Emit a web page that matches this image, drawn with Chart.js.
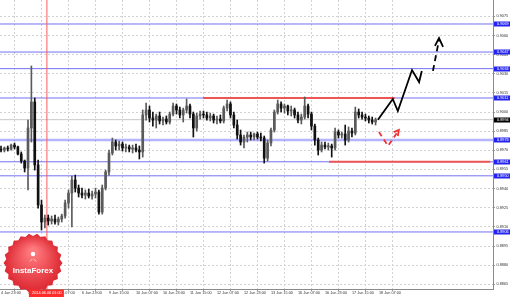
<!DOCTYPE html>
<html lang="en">
<head>
<meta charset="UTF-8">
<title>USDCHF H1</title>
<script src="https://cdn.jsdelivr.net/npm/chart.js"></script>
<style>
    html, body { margin: 0; padding: 0; background: #fff; }
    #wrap { width: 510px; height: 297px; }
</style>
</head>
<body>
<div id="wrap"><canvas id="chart" width="510" height="297"></canvas></div>
<script>
// candles, one per 2 hours, starting 4 Jun 23:00
const opens = [0.89710,0.89702,0.89718,0.89710,0.89741,0.89726,0.89671,0.89616,0.89561,0.89875,
    0.90079,0.89585,0.89271,0.89138,0.89169,0.89146,0.89161,0.89138,0.89161,0.89185,
    0.89287,0.89365,0.89467,0.89404,0.89365,0.89349,0.89365,0.89342,0.89357,0.89373,
    0.89216,0.89404,0.89530,0.89679,0.89765,0.89734,0.89749,0.89718,0.89726,0.89710,
    0.89718,0.89702,0.89687,0.89977,0.90016,0.89953,0.89937,0.89969,0.89930,0.89945,
    0.89922,0.89984,0.90047,0.90016,0.89977,0.90016,0.90047,0.89984,0.89875,0.89969,
    0.89984,0.89977,0.89953,0.89969,0.89937,0.89945,0.89930,0.90031,0.90063,0.89977,
    0.89898,0.89820,0.89765,0.89804,0.89820,0.89804,0.89828,0.89804,0.89796,0.89639,
    0.89757,0.89859,0.90000,0.90063,0.90031,0.90047,0.90008,0.90016,0.89977,0.89937,
    0.89961,0.90047,0.89984,0.89890,0.89781,0.89702,0.89741,0.89726,0.89734,0.89718,
    0.89843,0.89820,0.89828,0.89781,0.89851,0.89835,0.90000,0.89977,0.89961,0.89953,
    0.89937,0.89922];
const highs = [0.89734,0.89726,0.89734,0.89749,0.89757,0.89734,0.89687,0.89624,0.89937,0.90361,
    0.90110,0.89624,0.89310,0.89193,0.89193,0.89185,0.89193,0.89177,0.89200,0.89310,
    0.89389,0.89498,0.89506,0.89428,0.89404,0.89389,0.89396,0.89381,0.89404,0.89389,
    0.89428,0.89545,0.89702,0.89796,0.89781,0.89773,0.89765,0.89749,0.89741,0.89741,
    0.89749,0.89734,0.90016,0.90071,0.90047,0.90000,0.89984,0.90000,0.89961,0.89969,
    0.90000,0.90071,0.90063,0.90039,0.90031,0.90102,0.90063,0.90000,0.89992,0.90008,
    0.90008,0.90000,0.89992,0.89984,0.89969,0.89977,0.90047,0.90094,0.90079,0.90000,
    0.89937,0.89859,0.89820,0.89843,0.89843,0.89835,0.89843,0.89835,0.89812,0.89781,
    0.89875,0.90016,0.90094,0.90079,0.90063,0.90055,0.90047,0.90031,0.90000,0.89984,
    0.90118,0.90063,0.90000,0.89906,0.89796,0.89765,0.89765,0.89757,0.89749,0.89875,
    0.89859,0.89843,0.89898,0.89883,0.89875,0.90039,0.90024,0.90000,0.89984,0.89969,
    0.89961,0.89953];
const lows = [0.89687,0.89687,0.89694,0.89702,0.89710,0.89663,0.89600,0.89530,0.89389,0.89765,
    0.89545,0.89247,0.89075,0.89091,0.89114,0.89122,0.89122,0.89114,0.89138,0.89169,
    0.89247,0.89099,0.89373,0.89334,0.89326,0.89318,0.89326,0.89318,0.89326,0.89200,
    0.89200,0.89389,0.89506,0.89663,0.89702,0.89702,0.89694,0.89687,0.89687,0.89679,
    0.89687,0.89632,0.89647,0.89937,0.89922,0.89890,0.89875,0.89906,0.89898,0.89906,
    0.89906,0.89969,0.89984,0.89953,0.89922,0.89992,0.89953,0.89804,0.89851,0.89945,
    0.89953,0.89937,0.89930,0.89914,0.89906,0.89914,0.89914,0.90008,0.89953,0.89875,
    0.89788,0.89741,0.89718,0.89765,0.89781,0.89781,0.89788,0.89773,0.89600,0.89616,
    0.89734,0.89843,0.89984,0.90000,0.89992,0.89977,0.89969,0.89953,0.89914,0.89906,
    0.89945,0.89953,0.89859,0.89741,0.89663,0.89687,0.89710,0.89702,0.89647,0.89702,
    0.89796,0.89796,0.89741,0.89765,0.89804,0.89820,0.89953,0.89945,0.89930,0.89914,
    0.89906,0.89898];
const closes = [0.89702,0.89718,0.89710,0.89741,0.89726,0.89671,0.89616,0.89561,0.89875,0.90079,
    0.89585,0.89271,0.89138,0.89169,0.89146,0.89161,0.89138,0.89161,0.89185,0.89287,
    0.89365,0.89467,0.89404,0.89365,0.89349,0.89365,0.89342,0.89357,0.89373,0.89216,
    0.89404,0.89530,0.89679,0.89765,0.89734,0.89749,0.89718,0.89726,0.89710,0.89718,
    0.89702,0.89687,0.89977,0.90016,0.89953,0.89937,0.89969,0.89930,0.89945,0.89922,
    0.89984,0.90047,0.90016,0.89977,0.90016,0.90047,0.89984,0.89875,0.89969,0.89984,
    0.89977,0.89953,0.89969,0.89937,0.89945,0.89930,0.90031,0.90063,0.89977,0.89898,
    0.89820,0.89765,0.89804,0.89820,0.89804,0.89828,0.89804,0.89796,0.89639,0.89757,
    0.89859,0.90000,0.90063,0.90031,0.90047,0.90008,0.90016,0.89977,0.89937,0.89961,
    0.90047,0.89984,0.89890,0.89781,0.89702,0.89741,0.89726,0.89734,0.89718,0.89843,
    0.89820,0.89828,0.89781,0.89851,0.89835,0.90000,0.89977,0.89961,0.89953,0.89937,
    0.89922,0.89940];

// axes
const timeLabels = ['4 Jun 23:00', '5 Jun 15:00', '6 Jun 07:00', '6 Jun 23:00', '9 Jun 15:00',
    '10 Jun 07:00', '10 Jun 23:00', '11 Jun 15:00', '12 Jun 07:00', '12 Jun 23:00',
    '13 Jun 15:00', '16 Jun 07:00', '16 Jun 23:00', '17 Jun 15:00', '18 Jun 07:00'];
const timeLabelStep = 8;
const priceTicks = [0.8865, 0.8880, 0.8895, 0.8910, 0.8925, 0.8940, 0.8955, 0.8970,
    0.8985, 0.9000, 0.9015, 0.9030, 0.9045, 0.9060, 0.9075];
const xMin = -0.3, xMax = 145.8;
const yMin = 0.88613, yMax = 0.90878;

// levels and drawings
const levelPrices = [0.9069, 0.9047, 0.9034, 0.9011, 0.8978, 0.8961, 0.8950, 0.8906];
const selectedLevel = 0.8978;
const lastPrice = 0.8994;
const resistance = 0.9011, resistanceFrom = 59.9, resistanceTo = 116.7;
const support = 0.8961, supportFrom = 97.2, supportTo = 145;
const crossBar = 13.6, crossLabel = '2014.06.06 01:00';

const bullPathX = [111.7, 116.1, 117.6, 121.8, 123.9, 124.7];
const bullPathY = [0.8994, 0.90102, 0.90008, 0.90329, 0.90235, 0.90322];
const bullDashX = [128.0, 129.8];
const bullDashY = [0.90322, 0.90565];
const bullHeadX = [128.6, 129.8, 131.0];
const bullHeadY = [0.90518, 0.9058, 0.9051];
const bearPathX = [112.0, 114.7, 117.9];
const bearPathY = [0.89843, 0.89734, 0.89859];
const bearHeadX = [116.4, 117.9, 117.6];
const bearHeadY = [0.89843, 0.89859, 0.89812];

const FONT = '"Liberation Sans", Arial, sans-serif';
Chart.defaults.font.family = FONT;

const idx = opens.map((_, i) => i);
const candleColors = idx.map(i => closes[i] >= opens[i] ? '#5a5a5a' : '#111');

const pts = (xs, ys) => xs.map((x, k) => ({x: x, y: ys[k]}));
const hline = (price, from, to, color, width, order) => ({
    type: 'line', data: [{x: from, y: price}, {x: to, y: price}],
    borderColor: color, borderWidth: width, pointRadius: 0, order: order
});
const path = (xs, ys, color, dash) => ({
    type: 'line', data: pts(xs, ys), borderColor: color, borderWidth: 1.8,
    borderDash: dash, pointRadius: 0, tension: 0, order: 1
});

const datasets = [];
levelPrices.forEach(p => {
    if (p === selectedLevel) datasets.push(hline(p, xMin, xMax, 'rgba(120,120,255,0.55)', 2.5, 9));
    else datasets.push(hline(p, xMin, xMax, '#7272f2', 1, 9));
});
datasets.push(hline(lastPrice, xMin, xMax, '#c8c8c8', 1, 9));
// red lines sit above the blue levels
datasets.push(hline(resistance, resistanceFrom, resistanceTo, '#ee5555', 2, 7));
datasets.push(hline(support, supportFrom, supportTo, '#ee5555', 2, 7));
datasets.push({
    type: 'line', data: [{x: crossBar, y: yMin}, {x: crossBar, y: yMax}],
    borderColor: '#ff5a5a', borderWidth: 1, pointRadius: 0, order: 8
});
datasets.push({
    type: 'bar', data: idx.map(i => ({x: i, y: [lows[i], highs[i]]})),
    backgroundColor: candleColors, barThickness: 1, grouped: false, order: 5
});
datasets.push({
    type: 'bar', data: idx.map(i => ({x: i, y: [opens[i], closes[i]]})),
    backgroundColor: candleColors, barThickness: 2, grouped: false, order: 4
});
datasets.push(path(bullPathX, bullPathY, '#000', []));
datasets.push(path(bullDashX, bullDashY, '#000', [6, 4]));
datasets.push(path(bullHeadX, bullHeadY, '#000', []));
datasets.push(path(bearPathX, bearPathY, '#ee3333', [5, 4]));
datasets.push(path(bearHeadX, bearHeadY, '#ee3333', []));

// InstaForex badge in the lower left corner
function drawLogo(ctx) {
    const cx = 33, cy = 263, rOut = 29.5, rIn = 27, n = 22;
    ctx.save();
    ctx.beginPath();
    for (let k = 0; k < n * 2; k++) {
        const r = k % 2 ? rIn : rOut;
        const a = Math.PI * k / n;
        ctx.lineTo(cx + r * Math.cos(a), cy + r * Math.sin(a));
    }
    ctx.closePath();
    const g = ctx.createRadialGradient(cx, cy - 12, 3, cx, cy, rOut);
    g.addColorStop(0, '#ff7a7e');
    g.addColorStop(1, '#dc2630');
    ctx.fillStyle = g;
    ctx.fill();
    ctx.fillStyle = '#fff';
    ctx.beginPath();
    ctx.arc(cx, cy - 9, 2.2, 0, Math.PI * 2);
    ctx.fill();
    ctx.beginPath();
    ctx.moveTo(cx - 4, cy - 1);
    ctx.quadraticCurveTo(cx, cy - 7, cx + 4, cy - 1);
    ctx.lineTo(cx, cy - 4);
    ctx.closePath();
    ctx.fill();
    ctx.font = 'bold 8px ' + FONT;
    ctx.textAlign = 'center';
    ctx.textBaseline = 'alphabetic';
    ctx.fillText('InstaForex', cx, cy + 10);
    ctx.restore();
}

const overlays = {
    id: 'overlays',
    afterDraw(chart) {
        const {ctx, chartArea} = chart;
        const x = chart.scales.x, y = chart.scales.y;
        drawLogo(ctx);
        ctx.save();
        ctx.font = '3.8px ' + FONT;
        ctx.textBaseline = 'middle';
        ctx.textAlign = 'left';
        const box = (price, bg) => {
            const py = Math.round(y.getPixelForValue(price));
            ctx.fillStyle = bg;
            ctx.fillRect(chartArea.right + 1, py - 2.5, 17, 5);
            ctx.fillStyle = '#fff';
            ctx.fillText(price.toFixed(4), chartArea.right + 4, py);
        };
        levelPrices.forEach(p => box(p, '#2424f0'));
        box(lastPrice, '#000');
        const cx = x.getPixelForValue(crossBar);
        ctx.fillStyle = '#ff2b2b';
        ctx.fillRect(cx - 18, chartArea.bottom + 0.5, 35, 7.5);
        ctx.fillStyle = '#fff';
        ctx.textAlign = 'center';
        ctx.fillText(crossLabel, cx, chartArea.bottom + 4.3);
        ctx.restore();
    }
};

new Chart(document.getElementById('chart'), {
    type: 'bar',
    data: {datasets: datasets},
    options: {
        responsive: false,
        animation: false,
        events: [],
        layout: {padding: 0},
        plugins: {legend: {display: false}, tooltip: {enabled: false}},
        scales: {
            x: {
                type: 'linear', min: xMin, max: xMax, offset: false,
                afterBuildTicks: s => { s.ticks = timeLabels.map((_, k) => ({value: k * timeLabelStep})); },
                afterFit: s => { s.height = 8; s.paddingLeft = 0; s.paddingRight = 0; },
                ticks: {
                    callback: (v, k) => timeLabels[k], align: 'start', maxRotation: 0, minRotation: 0,
                    autoSkip: false, padding: 0, color: '#333', font: {size: 3.8}
                },
                grid: {color: '#d2d2d2', tickLength: 2, tickColor: '#999'},
                border: {color: '#8a8a8a', dash: [2, 2]}
            },
            y: {
                type: 'linear', position: 'right', min: yMin, max: yMax,
                afterBuildTicks: s => { s.ticks = priceTicks.map(v => ({value: v})); },
                afterFit: s => { s.width = 17; s.paddingTop = 0; s.paddingBottom = 0; },
                ticks: {
                    callback: v => v.toFixed(4), padding: 1.5, autoSkip: false,
                    color: '#333', font: {size: 3.8}
                },
                grid: {color: '#d2d2d2', tickLength: 2, tickColor: '#999'},
                border: {color: '#8a8a8a', dash: [2, 2]}
            }
        }
    },
    plugins: [overlays]
});
</script>
</body>
</html>
